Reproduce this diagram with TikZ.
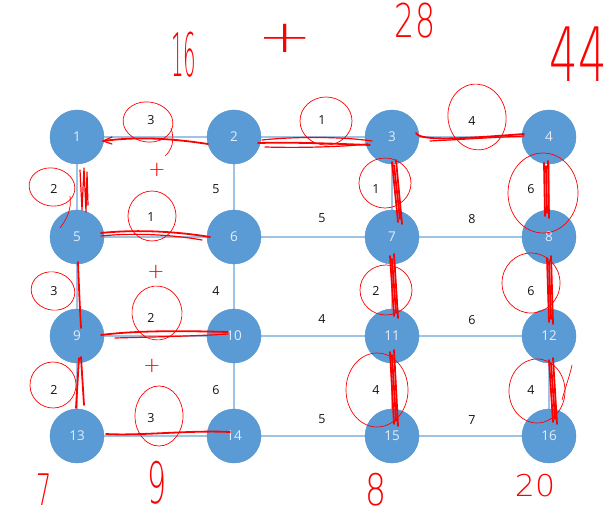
\documentclass[tikz,border=0pt]{standalone}
\usepackage{fontspec}
\setmainfont{Open Sans}
\newfontfamily\hand{DejaVu Sans ExtraLight}
\definecolor{nodefill}{HTML}{5B9BD5}
\definecolor{nodeline}{HTML}{5090CB}
\definecolor{edgecol}{HTML}{9DC3E6}
\definecolor{labtext}{HTML}{E3ECF7}
\definecolor{ink}{HTML}{FF0000}
\tikzset{
  vtx/.style={circle,fill=nodefill,draw=nodeline,line width=0.4pt,minimum size=54pt,inner sep=0pt,
    text=labtext,font=\fontsize{13.5}{14}\selectfont},
  wt/.style={inner sep=0pt,text=black!92,font=\fontsize{12.5}{13}\selectfont},
  edge/.style={draw=edgecol,line width=1.3pt},
  hw/.style={inner sep=0pt,text=ink,font=\hand\fontsize{30}{30}\selectfont},
  ring/.style={draw=ink,line width=0.7pt},
  pen/.style={draw=ink,line width=1.8pt,line cap=round,line join=round},
  thinpen/.style={draw=ink,line width=1.2pt,line cap=round,line join=round}
}
\begin{document}
\begin{tikzpicture}[x=1pt,y=-1pt]
\useasboundingbox (0,0) rectangle (609,518);
\fill[white] (0,0) rectangle (609,518);
% vertices
\foreach \n/\x/\y in {1/77/137,2/234/137,3/392/137,4/549/137,
                      5/77/237,6/234/237,7/392/237,8/549/237,
                      9/77/336,10/234/336,11/392/336,12/549/336,
                      13/77/436,14/234/436,15/392/436,16/549/436}
  \coordinate (p\n) at (\x,\y);
% edges
\foreach \a/\b in {1/2,2/3,3/4,5/6,6/7,7/8,9/10,10/11,11/12,13/14,14/15,15/16,
                   1/5,5/9,9/13,2/6,6/10,10/14,3/7,7/11,11/15,4/8,8/12,12/16}
  \draw[edge] (p\a) -- (p\b);
\foreach \n in {1,...,16}
  \node[vtx] (n\n) at (p\n) {\n};
% weights
\node[wt] (w12) at (151,120) {3};
\node[wt] (w23) at (322,120) {1};
\node[wt] (w34) at (472,121) {4};
\node[wt] (w56) at (151,217) {1};
\node[wt] (w67) at (322,218) {5};
\node[wt] (w78) at (472,219) {8};
\node[wt] (w910) at (151,318) {2};
\node[wt] (w1011) at (322,319) {4};
\node[wt] (w1112) at (472,320) {6};
\node[wt] (w1314) at (151,418) {3};
\node[wt] (w1415) at (322,419) {5};
\node[wt] (w1516) at (472,420) {7};
\node[wt] (w15) at (54,189) {2};
\node[wt] (w59) at (54,291) {3};
\node[wt] (w913) at (54,390) {2};
\node[wt] (w26) at (216,189) {5};
\node[wt] (w610) at (216,291) {4};
\node[wt] (w1014) at (216,390) {6};
\node[wt] (w37) at (376,189) {1};
\node[wt] (w711) at (376,291) {2};
\node[wt] (w1115) at (376,390) {4};
\node[wt] (w48) at (531,189) {6};
\node[wt] (w812) at (531,291) {6};
\node[wt] (w1216) at (531,390) {4};
% red rings
\draw[ring] (148,122) ellipse [x radius=25,y radius=20,rotate=-8];
\draw[ring] (171,128) .. controls (175,140) and (172,150) .. (165,156);
\draw[ring] (326,121) ellipse [x radius=26,y radius=24];
\draw[ring] (477,117) ellipse [x radius=29,y radius=33,rotate=10];
\draw[ring] (52,187) ellipse [x radius=23,y radius=19,rotate=-10];
\draw[ring] (70,196) .. controls (72,210) and (66,220) .. (60,228);
\draw[ring] (152,216) ellipse [x radius=24,y radius=25];
\draw[ring] (53,291) ellipse [x radius=22,y radius=19,rotate=-15];
\draw[ring] (157,313) ellipse [x radius=25,y radius=27,rotate=5];
\draw[ring] (53,385) ellipse [x radius=23,y radius=23,rotate=-10];
\draw[ring] (159,416) ellipse [x radius=24,y radius=30];
\draw[ring] (385,183) ellipse [x radius=26,y radius=25];
\draw[ring] (386,290) ellipse [x radius=26,y radius=25];
\draw[ring] (377,390) ellipse [x radius=31,y radius=37];
\draw[ring] (543,193) ellipse [x radius=35,y radius=40];
\draw[ring] (531,283) ellipse [x radius=29,y radius=30];
\draw[ring] (537,391) ellipse [x radius=28,y radius=32];
\draw[ring] (562,400) .. controls (566,385) and (570,375) .. (572,365);
% red strokes along chosen edges
\draw[pen] (103,141) .. controls (140,136) and (175,139) .. (208,144);
\draw[thinpen] (112,137) -- (103,141) -- (112,144);
\draw[pen] (258,143) .. controls (300,142) and (340,144) .. (370,145);
\draw[thinpen] (262,140) .. controls (300,136) and (345,137) .. (372,141);
\draw[thinpen] (265,147) .. controls (300,148) and (340,147) .. (368,144);
\draw[pen] (416,133) .. controls (420,142) and (470,138) .. (524,134);
\draw[thinpen] (430,141) .. controls (470,139) and (500,137) .. (524,136);
\draw[pen] (101,233) .. controls (140,229) and (180,232) .. (210,237);
\draw[thinpen] (101,236) .. controls (140,232) and (180,236) .. (202,240);
\draw[pen] (101,335) .. controls (140,330) and (190,331) .. (228,332);
\draw[thinpen] (115,338) .. controls (150,337) and (200,336) .. (228,334);
\draw[pen] (106,434) .. controls (140,436) and (190,430) .. (230,432);
\draw[thinpen] (80,170) -- (82,210) -- (84,168) -- (86,212) -- (87,172) -- (88,205);
\draw[pen] (78,262) .. controls (79,290) and (80,310) .. (81,328);
\draw[pen] (79,358) -- (76,408);
\draw[pen] (81,357) -- (84,405);
\foreach \dx/\e in {0/0,2/3,4/-2}{
  \draw[pen] (392+\dx,162+\e) -- (398+\dx,222-\e);
  \draw[pen] (390+\dx,256+\e) -- (394+\dx,316-\e);
  \draw[pen] (390+\dx,352+\e) -- (394+\dx,424-\e);
  \draw[pen] (544+\dx,163+\e) -- (545+\dx,216-\e);
  \draw[pen] (547+\dx,258+\e) -- (549+\dx,322-\e);
  \draw[pen] (549+\dx,360+\e) -- (553+\dx,422-\e);
}
% handwritten numbers
\node[hw] (t16) at (184,55) {\scalebox{0.66}[2.0]{16}};
\node[hw] (tplus) at (285,38) {\scalebox{2.2}[1.5]{+}};
\node[hw] (t28) at (415,21) {\scalebox{1.05}[1.55]{28}};
\node[hw] (t44) at (578,54) {\scalebox{1.5}[2.5]{44}};
\node[hw] (t7) at (44,490) {\scalebox{0.8}[1.45]{7}};
\node[hw] (t9) at (157,483) {\scalebox{1.0}[1.9]{9}};
\node[hw] (t8) at (376,490) {\scalebox{1.1}[1.45]{8}};
\node[hw] (t20) at (535,486) {\scalebox{1.05}[1.0]{20}};
\node[hw] (pa) at (157,170) {\scalebox{0.7}[0.7]{+}};
\node[hw] (pb) at (156,272) {\scalebox{0.7}[0.7]{+}};
\node[hw] (pc) at (152,366) {\scalebox{0.7}[0.7]{+}};
\end{tikzpicture}
\end{document}
